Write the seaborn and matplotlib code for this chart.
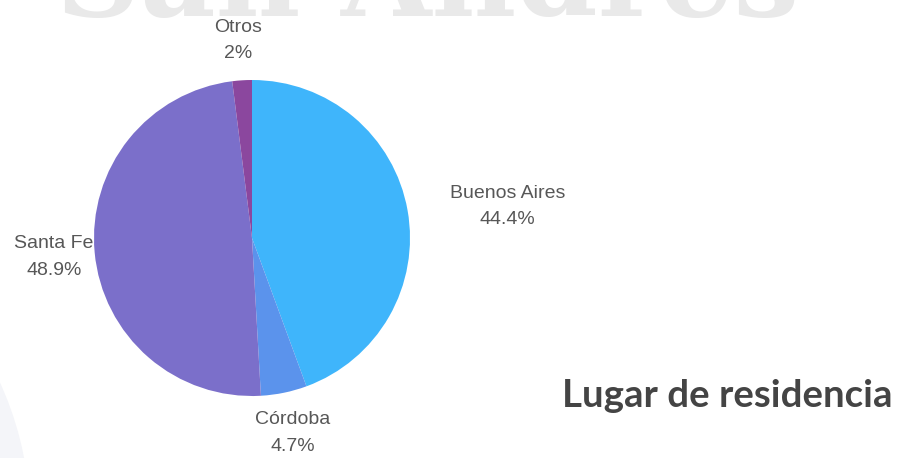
import numpy as np
import matplotlib
matplotlib.use("Agg")
import matplotlib.pyplot as plt
import matplotlib.patches as mpatches
import seaborn as sns

sns.set_theme(style="white")
plt.rcParams["font.family"] = ["Liberation Sans", "DejaVu Sans"]

# Lugar de residencia de los participantes (%)
provincias = ["Buenos Aires", "Córdoba", "Santa Fe", "Otros"]
porcentajes = [44.4, 4.7, 48.9, 2.0]
etiquetas_pct = ["44.4%", "4.7%", "48.9%", "2%"]
colores = ["#3fb5fb", "#5b93ec", "#7b6fca", "#8b479e"]

W, H = 902, 458
fig = plt.figure(figsize=(W / 100, H / 100), dpi=100)
fig.patch.set_facecolor("white")
ax = fig.add_axes([0, 0, 1, 1])

# soft background shape in the lower-left corner
ax.add_patch(mpatches.Circle((-300, -62), 330, color="#f4f5f9", zorder=0, lw=0))

# watermark across the top
ax.text(428, 442, "San Andres", fontsize=84, fontweight="bold",
        family="DejaVu Serif", color="#e9e9e9", ha="center", va="baseline",
        zorder=1)

cx, cy, r = 252, 220, 158
wedges, _ = ax.pie(porcentajes, colors=colores, startangle=90,
                   counterclock=False, center=(cx, cy), radius=r,
                   wedgeprops=dict(linewidth=0), frame=True)
ax.set_xlim(0, W)
ax.set_ylim(0, H)
ax.set_aspect("equal")
ax.axis("off")
for w in wedges:
    w.set_zorder(2)

# label anchors: (distance in radii, angle shift in degrees) from each slice's middle
ubicacion = [(1.63, -3.0), (1.26, 0.0), (1.26, 0.3), (1.255, 0.4)]
for w, nombre, pct, (d, da) in zip(wedges, provincias, etiquetas_pct, ubicacion):
    ang = np.deg2rad((w.theta1 + w.theta2) / 2 + da)
    x = cx + d * r * np.cos(ang)
    y = cy + d * r * np.sin(ang)
    ax.text(x, y, f"{nombre}\n{pct}", ha="center", va="center",
            fontsize=14, color="#575757", linespacing=1.72, zorder=3)

ax.text(562, 62, "Lugar de residencia", fontsize=27.6, fontweight="bold",
        family=["Lato", "DejaVu Sans"], color="#444444", ha="left",
        va="center", zorder=3)

fig.savefig("out.png", dpi=100, facecolor="white")
